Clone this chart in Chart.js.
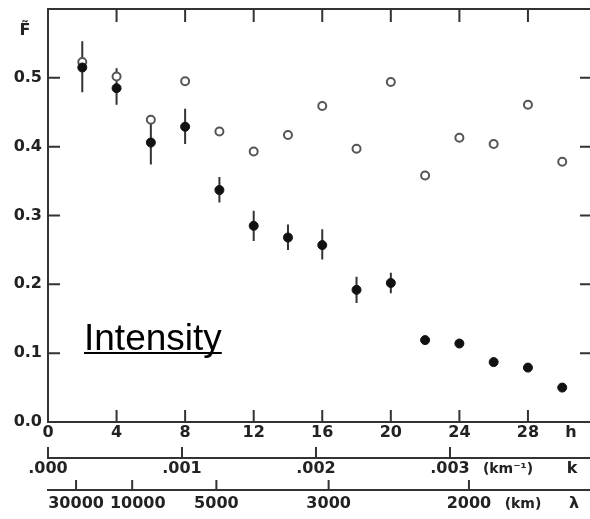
<!DOCTYPE html>
<html>
<head>
<meta charset="utf-8">
<script src="https://cdn.jsdelivr.net/npm/chart.js@4/dist/chart.umd.min.js"></script>
<style>
  html, body { margin: 0; padding: 0; background: #fff; overflow: hidden; }
  #wrap { width: 590px; height: 519px; }
</style>
</head>
<body>
<div id="wrap"><canvas id="fChart" width="590" height="519"></canvas></div>
<script>
// harmonic number h, open circles, filled circles with error bars
const harmonics = [2, 4, 6, 8, 10, 12, 14, 16, 18, 20, 22, 24, 26, 28, 30];
const openValues = [0.523, 0.502, 0.439, 0.495, 0.422, 0.393, 0.417, 0.459, 0.397, 0.494, 0.358, 0.413, 0.404, 0.461, 0.378];
const filledValues = [0.515, 0.485, 0.406, 0.429, 0.337, 0.285, 0.268, 0.257, 0.192, 0.202, 0.119, 0.114, 0.087, 0.079, 0.050];
const errHigh = [0.553, 0.514, 0.444, 0.455, 0.356, 0.307, 0.287, 0.280, 0.211, 0.217, null, null, null, null, null];
const errLow = [0.479, 0.461, 0.374, 0.404, 0.319, 0.263, 0.250, 0.236, 0.173, 0.187, null, null, null, null, null];

// tick labels of the three bottom scales and the y scale
const hTicks = [0, 4, 8, 12, 16, 20, 24, 28];
const kTicks = [0, 0.001, 0.002, 0.003];
const kTickLabels = ['.000', '.001', '.002', '.003'];
const lambdaTicks = [30000, 10000, 5000, 3000, 2000];
const lambdaTickLabels = ['30000', '  10000', '5000', '3000', '2000'];
const yTicks = [0, 0.1, 0.2, 0.3, 0.4, 0.5];

const H_MAX = 31.62;
const K_MAX = 0.004045;
const INK = '#333';
const tickFont = { family: 'DejaVu Sans', size: 16, weight: 'bold', lineHeight: 1 };

document.addEventListener('DOMContentLoaded', function() {

    // Error bars, top border and inward tick marks
    const framePlugin = {
        id: 'frame',
        beforeDatasetsDraw(chart) {
            const { ctx, chartArea: a, scales } = chart;
            const x = scales.x, y = scales.y;
            ctx.save();
            ctx.strokeStyle = INK;
            ctx.lineWidth = 2;

            // top border
            ctx.beginPath();
            ctx.moveTo(a.left - 1, a.top);
            ctx.lineTo(a.right, a.top);
            ctx.stroke();

            ctx.beginPath();
            hTicks.forEach(v => {
                if (v === 0) return;
                const px = x.getPixelForValue(v);
                ctx.moveTo(px, a.bottom); ctx.lineTo(px, a.bottom - 12);
                ctx.moveTo(px, a.top); ctx.lineTo(px, a.top + 13);
            });
            yTicks.forEach(v => {
                if (v === 0) return;
                const py = y.getPixelForValue(v);
                ctx.moveTo(a.left, py); ctx.lineTo(a.left + 12, py);
                ctx.moveTo(a.right, py); ctx.lineTo(a.right - 10, py);
            });
            kTicks.forEach(v => {
                const px = scales.xk.getPixelForValue(v);
                ctx.moveTo(px, scales.xk.top); ctx.lineTo(px, scales.xk.top - 11);
            });
            scales.xl.ticks.forEach(t => {
                const px = scales.xl.getPixelForValue(t.value);
                ctx.moveTo(px, scales.xl.top); ctx.lineTo(px, scales.xl.top - 10);
            });
            ctx.stroke();

            // error bars
            ctx.beginPath();
            harmonics.forEach((h, i) => {
                if (errHigh[i] == null) return;
                const px = x.getPixelForValue(h);
                ctx.moveTo(px, y.getPixelForValue(errHigh[i]));
                ctx.lineTo(px, y.getPixelForValue(errLow[i]));
            });
            ctx.stroke();
            ctx.restore();
        },
        afterDraw(chart) {
            const { ctx, scales } = chart;
            ctx.save();
            ctx.fillStyle = '#222';
            ctx.textAlign = 'center';
            ctx.textBaseline = 'middle';
            ctx.font = 'bold 16px "DejaVu Sans"';
            ctx.fillText('F\u0303', 25, 31);
            ctx.fillText('h', 571, scales.x.top + 11);
            ctx.fillText('k', 572, scales.xk.top + 11);
            ctx.fillText('\u03bb', 574, scales.xl.top + 14);
            ctx.font = 'bold 14px "DejaVu Sans"';
            ctx.fillText('(km\u207b\u00b9)', 508, scales.xk.top + 11);
            ctx.fillText('(km)', 523, scales.xl.top + 14);

            // Intensity label
            ctx.fillStyle = '#000';
            ctx.textAlign = 'left';
            ctx.textBaseline = 'alphabetic';
            ctx.font = '37px "Liberation Sans", Arial, sans-serif';
            ctx.fillText('Intensity', 84, 350);
            const w = ctx.measureText('Intensity').width;
            ctx.fillRect(84, 352, w, 2);
            ctx.restore();
        }
    };

    const bottomAxis = (min, max, weight, height, padding) => ({
        type: 'linear',
        position: 'bottom',
        min: min,
        max: max,
        weight: weight,
        grid: { display: false, drawTicks: false },
        border: { display: true, color: INK, width: 2 },
        ticks: { color: '#222', font: tickFont, padding: padding, autoSkip: false, maxRotation: 0 },
        afterFit: scale => { scale.height = height; }
    });

    const xh = bottomAxis(0, H_MAX, 0, 36, 3);
    xh.afterBuildTicks = scale => { scale.ticks = hTicks.map(v => ({ value: v })); };

    const xk = bottomAxis(0, K_MAX, 1, 32, 3);
    xk.afterBuildTicks = scale => { scale.ticks = kTicks.map(v => ({ value: v })); };
    xk.ticks.callback = (value, i) => kTickLabels[i];

    // wavelength scale, placed on the wavenumber axis (k = 2pi / lambda)
    const xl = bottomAxis(0, K_MAX, 2, 29, 5.5);
    xl.afterBuildTicks = scale => { scale.ticks = lambdaTicks.map(l => ({ value: 2 * Math.PI / l })); };
    xl.ticks.callback = (value, i) => lambdaTickLabels[i];

    new Chart(document.getElementById('fChart'), {
        type: 'scatter',
        data: {
            datasets: [
                {
                    label: 'filled',
                    data: harmonics.map((h, i) => ({ x: h, y: filledValues[i] })),
                    pointRadius: 4.5,
                    pointBackgroundColor: '#111',
                    pointBorderColor: '#111',
                    pointBorderWidth: 1,
                    order: 1
                },
                {
                    label: 'open',
                    data: harmonics.map((h, i) => ({ x: h, y: openValues[i] })),
                    pointRadius: 4,
                    pointBackgroundColor: '#fff',
                    pointBorderColor: '#555',
                    pointBorderWidth: 2,
                    order: 2
                }
            ]
        },
        options: {
            responsive: false,
            animation: false,
            layout: { autoPadding: false, padding: { top: 9, left: 0, right: 0, bottom: 0 } },
            plugins: {
                legend: { display: false },
                tooltip: { enabled: false }
            },
            scales: {
                x: xh,
                xk: xk,
                xl: xl,
                y: {
                    type: 'linear',
                    min: 0,
                    max: 0.6,
                    grid: { display: false, drawTicks: false },
                    border: { display: true, color: INK, width: 2 },
                    afterBuildTicks: scale => { scale.ticks = yTicks.map(v => ({ value: v })); },
                    ticks: {
                        color: '#222',
                        font: tickFont,
                        padding: 6,
                        callback: value => value.toFixed(1)
                    },
                    afterFit: scale => {
                        scale.width = 48;
                        scale.paddingTop = 0;
                        scale.paddingBottom = 0;
                    }
                }
            }
        },
        plugins: [framePlugin]
    });
});
</script>
</body>
</html>
